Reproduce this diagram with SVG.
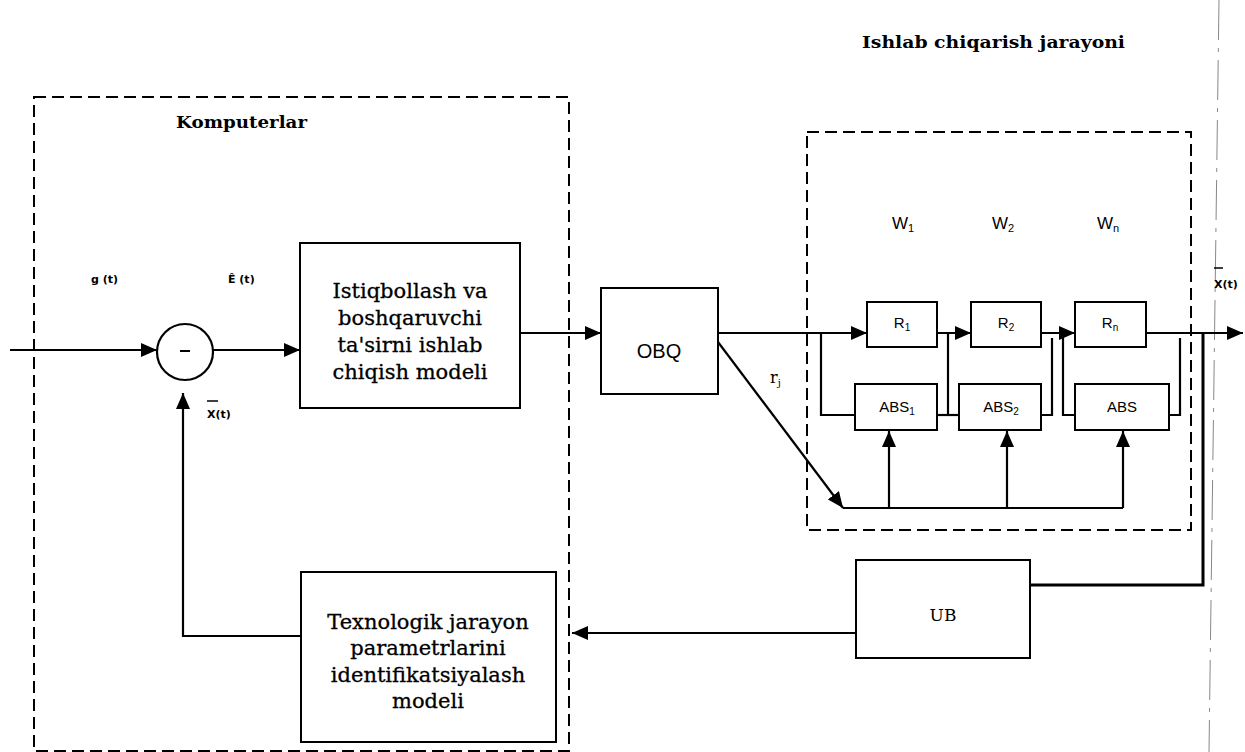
<svg xmlns="http://www.w3.org/2000/svg" width="1245" height="752" viewBox="0 0 1245 752">
<style>
.box{fill:#fff;stroke:#000;stroke-width:2}
.dash{fill:none;stroke:#000;stroke-width:2;stroke-dasharray:12 6}
.ln{fill:none;stroke:#000;stroke-width:2.2}
.serif{font-family:"DejaVu Serif","Liberation Serif",serif;fill:#000}
.sans{font-family:"Liberation Sans","DejaVu Sans",sans-serif;fill:#000}
.bt{font-size:21px;text-anchor:middle;stroke:#000;stroke-width:0.3}
.sm{font-size:15px;text-anchor:middle}
.lab{font-family:"DejaVu Sans",sans-serif;font-weight:bold;font-size:11px;fill:#000}
</style>
<defs>
<marker id="ah" markerUnits="userSpaceOnUse" markerWidth="18" markerHeight="14" refX="16" refY="7" orient="auto">
<path d="M0,0 L16,7 L0,14 Z" fill="#000"/>
</marker>
</defs>
<rect width="1245" height="752" fill="#fff"/>
<line x1="1219" y1="0" x2="1209" y2="752" stroke="#888" stroke-width="1" stroke-dasharray="40 8 4 8"/>
<g id="computers">
<rect class="dash" x="34" y="97" width="535" height="654"/>
<text class="serif" x="176" y="128" font-size="17" font-weight="bold" textLength="131" lengthAdjust="spacingAndGlyphs">Komputerlar</text>
</g>
<g id="process">
<rect class="dash" x="807" y="132" width="384" height="398"/>
<text class="serif" x="862" y="48" font-size="17" font-weight="bold" textLength="263" lengthAdjust="spacingAndGlyphs">Ishlab chiqarish jarayoni</text>
</g>
<g id="comparator">
<circle cx="185" cy="352" r="28" fill="#fff" stroke="#000" stroke-width="2.2"/>
<line x1="180" y1="351" x2="190" y2="351" stroke="#000" stroke-width="2"/>
</g>
<g id="predict">
<rect class="box" x="300" y="243" width="220" height="165"/>
<text class="serif bt"><tspan x="410" y="298">Istiqbollash va</tspan><tspan x="410" y="325">boshqaruvchi</tspan><tspan x="410" y="352">ta'sirni ishlab</tspan><tspan x="410" y="379">chiqish modeli</tspan></text>
</g>
<g id="ident">
<rect class="box" x="301" y="572" width="255" height="170"/>
<text class="serif bt"><tspan x="428" y="629">Texnologik jarayon</tspan><tspan x="428" y="655">parametrlarini</tspan><tspan x="428" y="682">identifikatsiyalash</tspan><tspan x="428" y="708">modeli</tspan></text>
</g>
<g id="obq">
<rect class="box" x="601" y="288" width="117" height="106"/>
<text class="sans" x="659" y="358" font-size="20" text-anchor="middle">OBQ</text>
</g>
<g id="r1"><rect class="box" x="867" y="302" width="70" height="45"/><text class="sans sm" x="902" y="328">R<tspan font-size="10" dy="3">1</tspan></text></g>
<g id="r2"><rect class="box" x="971" y="302" width="70" height="45"/><text class="sans sm" x="1006" y="328">R<tspan font-size="10" dy="3">2</tspan></text></g>
<g id="rn"><rect class="box" x="1075" y="302" width="71" height="45"/><text class="sans sm" x="1110" y="328">R<tspan font-size="10" dy="3">n</tspan></text></g>
<g id="abs1"><rect class="box" x="855" y="384" width="82" height="46"/><text class="sans sm" x="897" y="412">ABS<tspan font-size="10" dy="3">1</tspan></text></g>
<g id="abs2"><rect class="box" x="959" y="384" width="82" height="46"/><text class="sans sm" x="1001" y="412">ABS<tspan font-size="10" dy="3">2</tspan></text></g>
<g id="absn"><rect class="box" x="1075" y="384" width="94" height="46"/><text class="sans sm" x="1122" y="412">ABS</text></g>
<g id="ub">
<rect class="box" x="856" y="560" width="174" height="98"/>
<text class="serif" x="943" y="621" font-size="17" text-anchor="middle">UB</text>
</g>
<g id="labels">
<text class="lab" x="91" y="283">g (t)</text>
<text class="lab" x="228" y="283">Ê (t)</text>
<text class="lab" x="207" y="418">X(t)</text>
<line x1="207" y1="401" x2="218" y2="401" stroke="#000" stroke-width="1.5"/>
<text class="lab" x="1214" y="288">X(t)</text>
<line x1="1214" y1="268" x2="1223" y2="268" stroke="#000" stroke-width="1.5"/>
<text class="sans" x="892" y="229" font-size="17">W<tspan font-size="11" dy="3">1</tspan></text>
<text class="sans" x="992" y="229" font-size="17">W<tspan font-size="11" dy="3">2</tspan></text>
<text class="sans" x="1097" y="229" font-size="17">W<tspan font-size="11" dy="3">n</tspan></text>
<text class="serif" x="770" y="383" font-size="16">r<tspan font-size="10" dy="3">j</tspan></text>
</g>
<g id="connectors">
<path class="ln" d="M10,350 H157" marker-end="url(#ah)"/>
<path class="ln" d="M213,350 H300" marker-end="url(#ah)"/>
<path class="ln" d="M520,333 H601" marker-end="url(#ah)"/>
<path class="ln" d="M718,333 H867" marker-end="url(#ah)"/>
<path class="ln" d="M821,333 V415 H855"/>
<path class="ln" d="M937,333 H971" marker-end="url(#ah)"/>
<path class="ln" d="M948,333 V415"/>
<path class="ln" d="M937,415 H959"/>
<path class="ln" d="M1041,333 H1075" marker-end="url(#ah)"/>
<path class="ln" d="M1041,415 H1052 V338"/>
<path class="ln" d="M1063,333 V415 H1075"/>
<path class="ln" d="M1146,333 H1243" marker-end="url(#ah)"/>
<path class="ln" d="M1169,415 H1180 V338"/>
<path class="ln" d="M718,342 L843,508" marker-end="url(#ah)"/>
<path class="ln" d="M843,508 H1123"/>
<path class="ln" d="M889,508 V431" marker-end="url(#ah)"/>
<path class="ln" d="M1007,508 V431" marker-end="url(#ah)"/>
<path class="ln" d="M1123,508 V431" marker-end="url(#ah)"/>
<path fill="none" stroke="#000" stroke-width="3" d="M1203,333 V585 H1030"/>
<path class="ln" d="M856,633 H572" marker-end="url(#ah)"/>
<path class="ln" d="M301,636 H183 V393" marker-end="url(#ah)"/>
</g>
</svg>
